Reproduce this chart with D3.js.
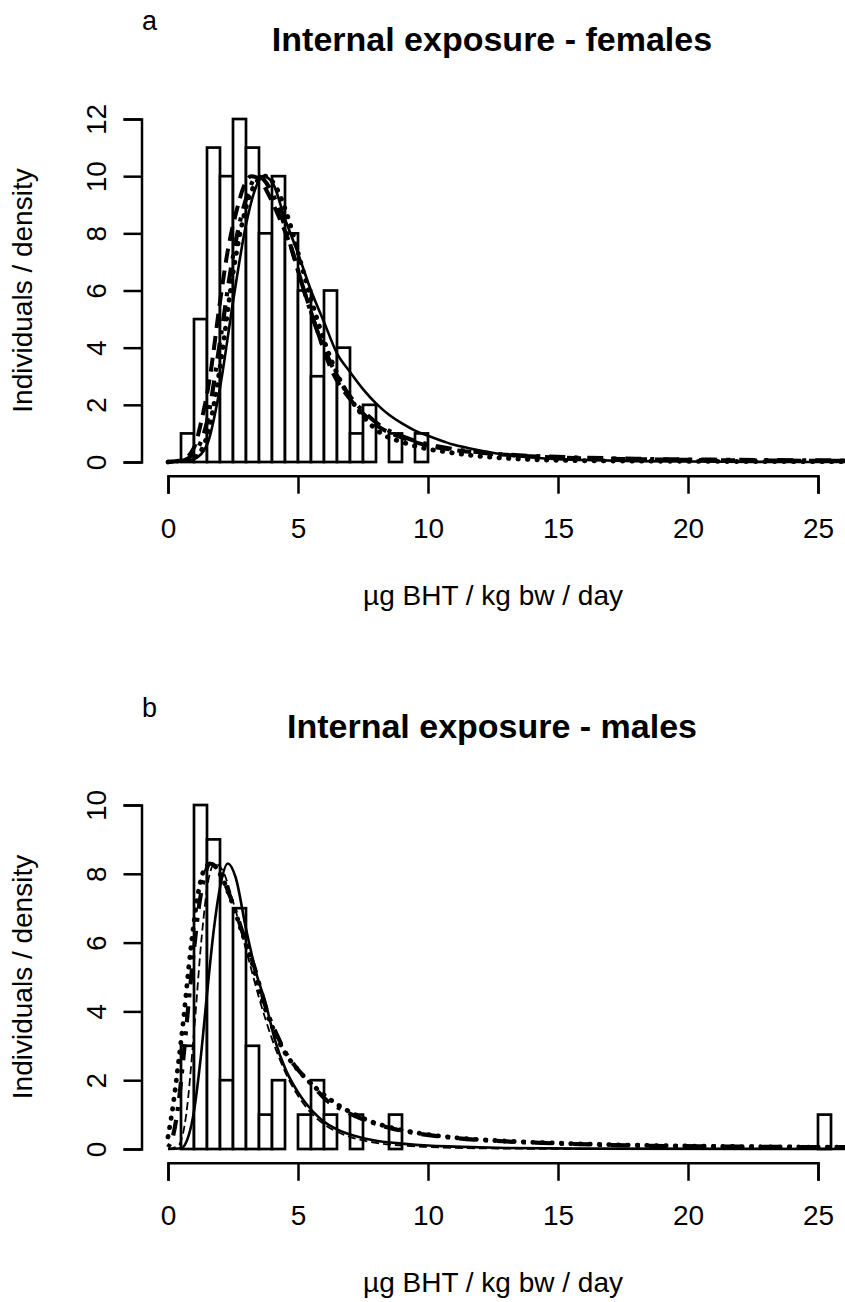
<!DOCTYPE html>
<html>
<head>
<meta charset="utf-8">
<script src="https://cdn.jsdelivr.net/npm/d3@7"></script>
<style>
  html, body { margin: 0; padding: 0; background: #fff; }
  svg { display: block; }
  text { font-family: "Liberation Sans", Arial, sans-serif; fill: #000; }
</style>
</head>
<body>
<svg id="chart" width="845" height="1302"></svg>
<script>
// ---------------- DATA ----------------
const xTicks = [0, 5, 10, 15, 20, 25];
const femaleYTicks = [0, 2, 4, 6, 8, 10, 12];
const maleYTicks = [0, 2, 4, 6, 8, 10];

const binWidth = 0.5;
// counts per 0.5-wide bin, starting at 0
const femaleCounts = [0, 1, 5, 11, 10, 12, 11, 8, 10, 8, 6, 3, 6, 4, 1, 2, 0, 1, 0, 1];
const maleCounts = [0, 3, 10, 9, 2, 7, 3, 1, 2, 0, 1, 2, 1, 0, 1, 0, 0, 1,
  0, 0, 0, 0, 0, 0, 0, 0, 0, 0, 0, 0, 0, 0, 0, 0,
  0, 0, 0, 0, 0, 0, 0, 0, 0, 0, 0, 0, 0, 0, 0, 0, 1];

// fitted density curves (scaled): [x, y]
const femaleSolid = [[0,0],[0.5,0.01],[1.0,0.1],[1.5,0.6],[2.0,2.6],[2.5,5.6],[3.0,8.3],[3.3,9.4],[3.65,10.0],[4.0,9.8],[4.5,8.5],[5.0,7.3],[5.5,6.0],[6.0,4.9],[6.5,3.8],[7.0,3.15],[7.5,2.55],[8.0,2.05],[8.5,1.65],[9.0,1.35],[9.5,1.1],[10,0.92],[10.6,0.72],[11,0.6],[11.5,0.5],[12,0.4],[13,0.25],[14,0.16],[15,0.1],[16,0.07],[18,0.03],[20,0.015],[23,0.005],[26.5,0]];
const femaleDashed = [[0,0],[0.5,0.05],[1.0,0.5],[1.3,1.5],[1.6,2.9],[2.0,5.6],[2.3,7.4],[2.64,8.8],[2.9,9.6],[3.2,10.0],[3.5,9.9],[3.9,9.3],[4.3,8.5],[4.7,7.6],[5.2,6.1],[5.7,4.7],[6.3,3.2],[7.0,2.2],[7.5,1.7],[8.1,1.24],[9.0,0.85],[9.87,0.6],[11,0.42],[12,0.32],[13,0.25],[15,0.16],[18,0.1],[22,0.06],[26.5,0.04]];
const femaleDotDash = [[0,0],[0.5,0.03],[1.0,0.3],[1.5,1.4],[2.0,4.2],[2.5,7.2],[3.0,9.2],[3.45,10.0],[3.9,9.6],[4.4,8.5],[4.9,7.0],[5.4,5.5],[5.9,4.2],[6.4,3.2],[7.0,2.3],[7.6,1.7],[8.2,1.25],[9,0.9],[10,0.62],[11,0.45],[12,0.34],[13,0.26],[14,0.21],[16,0.15],[18,0.11],[21,0.08],[26.5,0.05]];
const femaleDotted = [[0,0],[1.0,0.15],[1.5,0.9],[2.0,3.3],[2.5,6.6],[3.0,8.9],[3.5,9.9],[3.75,10.0],[4.1,9.7],[4.6,8.6],[5.1,7.0],[5.6,5.4],[6.1,4.0],[6.6,2.9],[7.1,2.1],[7.6,1.5],[8.2,1.0],[9,0.7],[10,0.45],[10.5,0.38],[11.5,0.25],[13,0.13],[15,0.06],[18,0.03],[26.5,0.01]];

const maleSolid = [[0,0],[0.5,0.02],[0.8,0.4],[1.0,1.1],[1.25,2.6],[1.5,4.5],[1.75,6.3],[2.0,7.6],[2.3,8.3],[2.6,7.9],[3.0,6.4],[3.4,5.1],[3.77,4.2],[4.1,3.2],[4.53,2.3],[5.0,1.65],[5.3,1.33],[5.9,0.85],[6.56,0.55],[7.2,0.38],[7.8,0.27],[9.1,0.15],[10,0.1],[11,0.07],[13,0.03],[16,0.01],[26.5,0]];
const maleDashed = [[0,0],[0.4,0.1],[0.7,1.0],[1.0,3.4],[1.3,6.2],[1.55,7.8],[1.8,8.3],[2.1,8.1],[2.5,7.2],[3.0,5.8],[3.5,4.4],[4.0,3.2],[4.5,2.25],[5.0,1.55],[5.5,1.05],[6.0,0.72],[6.5,0.5],[7.0,0.35],[8.0,0.18],[9.0,0.1],[10,0.06],[12,0.02],[15,0.005],[26.5,0]];
const maleDotted = [[0,0.35],[0.2,1.3],[0.4,2.5],[0.6,3.8],[0.8,5.3],[1.0,6.6],[1.2,7.6],[1.45,8.2],[1.65,8.3],[2.0,8.0],[2.4,7.3],[2.8,6.4],[3.2,5.5],[3.64,4.3],[4.1,3.4],[4.5,2.8],[5.0,2.3],[5.8,1.7],[6.5,1.3],[7.2,1.0],[7.8,0.8],[8.6,0.62],[9.35,0.5],[10.9,0.34],[13,0.23],[15,0.17],[18,0.11],[22,0.07],[26.5,0.05]];
const maleDotDash = [[0,0.05],[0.2,0.4],[0.4,1.3],[0.6,2.7],[0.8,4.3],[1.0,5.8],[1.2,7.1],[1.4,7.9],[1.6,8.3],[1.85,8.2],[2.2,7.7],[2.6,6.9],[3.0,6.0],[3.4,5.1],[3.77,4.1],[4.2,3.3],[4.53,2.8],[4.9,2.4],[5.5,1.9],[6.05,1.45],[6.8,1.1],[7.8,0.78],[8.6,0.6],[9.35,0.48],[10.9,0.33],[13,0.22],[15,0.16],[18,0.1],[22,0.07],[26.5,0.05]];

// ---------------- STYLES ----------------
const styles = {
  solid:   { w: 2.6, dash: null, cap: "butt" },
  thin:    { w: 1.8, dash: "8,4", cap: "butt" },
  dashed:  { w: 4.0, dash: "14,8", cap: "butt" },
  dotted:  { w: 4.8, dash: "0.5,9", cap: "round" },
  dotdash: { w: 4.2, dash: "4,9,16,9", cap: "butt" }
};

const svg = d3.select("#chart");

function panel(opt) {
  const g = svg.append("g");
  const x = d3.scaleLinear().domain([0, 25]).range([168, 818]);
  const y = d3.scaleLinear().domain([0, opt.yMax]).range([opt.y0, opt.yTop]);
  const plotLeft = 141.5, plotRight = 860;
  const ext = 0.04 * opt.yMax;
  const plotTop = y(opt.yMax + ext), plotBottom = y(-ext);

  const clipId = "clip" + opt.id;
  svg.append("clipPath").attr("id", clipId).append("rect")
    .attr("x", plotLeft).attr("y", plotTop)
    .attr("width", plotRight - plotLeft).attr("height", plotBottom - plotTop);

  // histogram
  const bars = g.append("g").attr("clip-path", `url(#${clipId})`);
  bars.selectAll("rect").data(opt.counts).join("rect")
    .attr("x", (d, i) => x(i * binWidth))
    .attr("width", (d, i) => x((i + 1) * binWidth) - x(i * binWidth))
    .attr("y", d => y(d))
    .attr("height", d => y(0) - y(d))
    .attr("fill", "#fff").attr("stroke", "#000").attr("stroke-width", 2.7);

  // curves
  const line = d3.line().x(d => x(d[0])).y(d => y(d[1])).curve(d3.curveMonotoneX);
  const cg = g.append("g").attr("clip-path", `url(#${clipId})`);
  opt.curves.forEach(c => {
    const s = styles[c.style];
    cg.append("path").attr("d", line(c.data))
      .attr("fill", "none").attr("stroke", "#000")
      .attr("stroke-width", s.w)
      .attr("stroke-dasharray", s.dash)
      .attr("stroke-linecap", s.cap)
      .attr("stroke-linejoin", "round");
  });

  // x axis
  const xa = g.append("g").attr("transform", `translate(0,${plotBottom})`)
    .call(d3.axisBottom(x).tickValues(xTicks).tickSizeOuter(0).tickSize(18).tickPadding(0));
  xa.select(".domain").attr("stroke-width", 2.5);
  xa.selectAll(".tick line").attr("stroke-width", 2.5);
  xa.selectAll(".tick text").attr("font-size", 28).attr("font-family", "Liberation Sans, Arial, sans-serif")
    .attr("y", 62).attr("dy", 0);

  // y axis
  const ya = g.append("g").attr("transform", `translate(${plotLeft},0)`)
    .call(d3.axisLeft(y).tickValues(opt.yTicks).tickSizeOuter(0).tickSize(18));
  ya.select(".domain").attr("stroke-width", 2.5);
  ya.selectAll(".tick line").attr("stroke-width", 2.5);
  ya.selectAll(".tick text").attr("font-size", 28).attr("font-family", "Liberation Sans, Arial, sans-serif")
    .attr("transform", "rotate(-90)").attr("x", 0).attr("y", -36).attr("dy", 0)
    .attr("text-anchor", "middle");

  // labels
  g.append("text").attr("x", 493).attr("y", plotBottom + 129)
    .attr("text-anchor", "middle").attr("font-size", 28).text("µg BHT / kg bw / day");
  g.append("text").attr("transform", `translate(32,${(plotTop + plotBottom) / 2}) rotate(-90)`)
    .attr("text-anchor", "middle").attr("font-size", 28).text("Individuals / density");
  g.append("text").attr("x", 492).attr("y", opt.titleY)
    .attr("text-anchor", "middle").attr("font-size", 34).attr("font-weight", "bold").text(opt.title);
  g.append("text").attr("x", 142).attr("y", opt.letterY)
    .attr("font-size", 27).text(opt.letter);
}

panel({
  id: "a", yMax: 12, y0: 462, yTop: 119, yTicks: femaleYTicks, counts: femaleCounts,
  title: "Internal exposure - females", titleY: 51, letter: "a", letterY: 30,
  curves: [
    { data: femaleSolid, style: "solid" },
    { data: femaleDashed, style: "dashed" },
    { data: femaleDotDash, style: "dotdash" },
    { data: femaleDotted, style: "dotted" }
  ]
});
panel({
  id: "b", yMax: 10, y0: 1149, yTop: 805, yTicks: maleYTicks, counts: maleCounts,
  title: "Internal exposure - males", titleY: 738, letter: "b", letterY: 717,
  curves: [
    { data: maleSolid, style: "solid" },
    { data: maleDashed, style: "thin" },
    { data: maleDotDash, style: "dotdash" },
    { data: maleDotted, style: "dotted" }
  ]
});
</script>
</body>
</html>
